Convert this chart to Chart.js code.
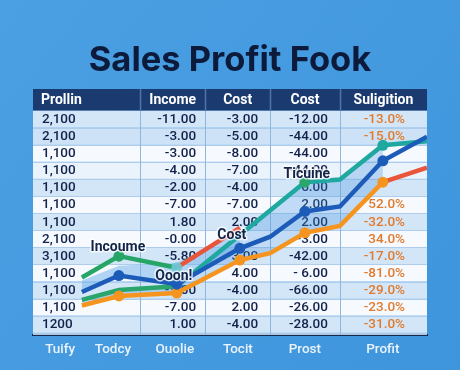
<!DOCTYPE html>
<html><head><meta charset="utf-8">
<script src="https://cdn.jsdelivr.net/npm/chart.js@4.4.1/dist/chart.umd.min.js"></script>
<style>html,body{margin:0;padding:0;background:#4a9ee2;}#wrap{width:460px;height:370px;position:relative;}</style>
</head><body><div id="wrap"><canvas id="c" width="460" height="370"></canvas></div>
<script>
// ---- data ----
const xLabels = ['Tuify', 'Todcy', 'Ouolie', 'Tocit', 'Prost', 'Profit'];
const xTickValues = [6.9, 20.3, 36.0, 52.0, 69.0, 88.8];
const xStops = [12.4, 21.8, 36.5, 52.5, 60.2, 69.0, 77.9, 88.8, 100];
const greenTop   = [23.3, 32.0, 27.3, null, null, null, null, null, null];
const tealLine   = [14.2, 18.2, 19.8, null, null, 62.1, 63.2, 77.1, 78.7];
const blueLine   = [17.4, 24.1, 20.6, 35.2, 39.9, 50.2, 52.2, 70.8, 80.6];
const orangeLine = [11.9, 15.8, 17.0, 30.4, 33.2, 41.5, 44.3, 62.1, null];
const redLine    = [null, null, 27.3, 43.5, null, null, null, 62.1, 68.0];
const bandTop    = [22.1, 28.1, 29.2, 41.9, null, null, null, null, null];

const tableHeaders = ['Prollin', 'Income', 'Cost', 'Cost', 'Suligition'];
const colProllin = ['2,100','2,100','1,100','1,100','1,100','1,100','1,100','2,100','3,100','1,100','1,100','1,100','1200'];
const colIncome  = ['-11.00','-3.00','-3.00','-4.00','-2.00','-7.00','1.80','-0.00','-5.80','','-5.00','-7.00','1.00'];
const colCost1   = ['-3.00','-5.00','-8.00','-7.00','-4.00','-7.00','2.00','','-3.00','4.00','-4.00','2.00','-4.00'];
const colCost2   = ['-12.00','-44.00','-44.00','-44.00','-6.00','2.00','2.00','-3.00','-42.00','- 6.00','-66.00','-26.00','-28.00'];
const colSulig   = ['-13.0%','-15.0%','','','','52.0%','-32.0%','34.0%','-17.0%','-81.0%','-29.0%','-23.0%','-31.0%'];

const callouts = [
  { text: 'Incoume', series: 'greenTop', index: 1 },
  { text: 'Ooon!',   series: 'greenTop', index: 2 },
  { text: 'Cost',    series: 'red',      index: 3 },
  { text: 'Ticuine', series: 'teal',     index: 5 }
];

// ---- helpers ----
const pts = ys => xStops.map((x, i) => ({ x: x, y: ys[i] }));
const markers = (idx, r) => ctx => idx.includes(ctx.dataIndex) ? r : 0;

const bgPlugin = {
  id: 'bg',
  beforeDraw(chart) {
    const { ctx, width, height } = chart;
    ctx.save();
    const g = ctx.createLinearGradient(0, 0, width, height);
    g.addColorStop(0, '#4ba0e3');
    g.addColorStop(1, '#3f95dc');
    ctx.fillStyle = g;
    ctx.fillRect(0, 0, width, height);
    ctx.restore();
  }
};

const tablePlugin = {
  id: 'table',
  beforeDatasetsDraw(chart, args, o) {
    const { ctx, chartArea: a, scales: { x } } = chart;
    const edges = o.columnEdges.map(v => x.getPixelForValue(v));
    const cols = [colProllin, colIncome, colCost1, colCost2, colSulig];
    const nRows = colProllin.length;
    const hTop = a.top, hh = o.headerHeight, rh = o.rowHeight;
    ctx.save();
    for (let r = 0; r <= nRows; r++) {
      const y0 = hTop + hh + r * rh;
      const y1 = Math.min(y0 + rh, a.bottom);
      ctx.fillStyle = o.rowFills[r % o.rowFills.length];
      ctx.fillRect(edges[0], y0, edges[edges.length - 1] - edges[0], y1 - y0);
    }
    ctx.strokeStyle = o.lineColor; ctx.lineWidth = 1;
    for (let r = 1; r <= nRows; r++) {
      const y = Math.round(hTop + hh + r * rh) + 0.5;
      ctx.beginPath(); ctx.moveTo(edges[0], y); ctx.lineTo(edges[edges.length - 1], y); ctx.stroke();
    }
    ctx.strokeStyle = o.vLineColor;
    for (let i = 1; i < edges.length - 1; i++) {
      const xx = Math.round(edges[i]) + 0.5;
      ctx.beginPath(); ctx.moveTo(xx, hTop + hh); ctx.lineTo(xx, a.bottom); ctx.stroke();
    }
    ctx.fillStyle = o.headerColor;
    ctx.fillRect(edges[0], hTop, edges[edges.length - 1] - edges[0], hh);
    ctx.strokeStyle = o.headerDivider; ctx.lineWidth = 1.5;
    for (let i = 1; i < edges.length - 1; i++) {
      const xx = Math.round(edges[i]) + 0.5;
      ctx.beginPath(); ctx.moveTo(xx, hTop); ctx.lineTo(xx, hTop + hh); ctx.stroke();
    }
    ctx.textBaseline = 'middle';
    ctx.font = o.headerFont; ctx.fillStyle = '#ffffff';
    tableHeaders.forEach((t, i) => {
      const al = o.headerAlign[i];
      ctx.textAlign = al;
      const tx = al === 'left' ? edges[i] + o.headerInset[i] : al === 'right' ? edges[i + 1] - o.headerInset[i] : (edges[i] + edges[i + 1]) / 2;
      ctx.fillText(t, tx, hTop + hh / 2 + 1);
    });
    ctx.font = o.cellFont;
    cols.forEach((col, i) => {
      ctx.fillStyle = o.cellColors[i];
      const al = o.cellAlign[i];
      ctx.textAlign = al;
      const tx = al === 'left' ? edges[i] + o.cellInset[i] : edges[i + 1] - o.cellInset[i];
      col.forEach((t, r) => {
        if (!t) return;
        ctx.fillText(t, tx, hTop + hh + r * rh + rh / 2 + 0.5);
      });
    });
    ctx.restore();
  }
};

const calloutPlugin = {
  id: 'callouts',
  afterDatasetsDraw(chart, args, o) {
    const { ctx } = chart;
    ctx.save();
    ctx.font = o.font;
    ctx.textAlign = 'center';
    ctx.textBaseline = 'middle';
    callouts.forEach((c, k) => {
      const dsIndex = chart.data.datasets.findIndex(d => d.key === c.series);
      const el = chart.getDatasetMeta(dsIndex).data[c.index];
      const off = o.offsets[k];
      const px = el.x + off[0], py = el.y + off[1];
      ctx.lineJoin = 'round';
      ctx.strokeStyle = o.halo; ctx.lineWidth = 3;
      ctx.strokeText(c.text, px, py);
      ctx.fillStyle = o.color;
      ctx.fillText(c.text, px, py);
    });
    ctx.restore();
  }
};

const tealSeg = ctx => ctx.p0.parsed.x >= 60 ? '#1fa8a0' : '#2aa56c';

new Chart(document.getElementById('c'), {
  type: 'line',
  data: {
    datasets: [
      { key: 'blue', data: pts(blueLine), borderColor: '#1d5bb8', borderWidth: 4.5,
        pointRadius: markers([1, 2, 3, 5, 7], 5.5), pointBackgroundColor: '#1d5bb8', pointBorderWidth: 0,
        tension: 0, fill: false },
      { key: 'orange', data: pts(orangeLine), borderColor: '#f5951f', borderWidth: 4.5,
        pointRadius: markers([1, 2, 3, 5, 7], 5.5), pointBackgroundColor: '#f5951f', pointBorderWidth: 0,
        tension: 0, fill: false },
      { key: 'teal', data: pts(tealLine), borderColor: '#2aa56c', borderWidth: 4.5,
        segment: { borderColor: tealSeg }, spanGaps: true,
        pointRadius: markers([5, 7], 5.5), pointBackgroundColor: ['#2aa56c','#2aa56c','#2aa56c','#2aa56c','#2aa56c','#2aa56c','#2aa56c','#1fa8a0','#1fa8a0'], pointBorderWidth: 0,
        tension: 0, fill: 1, backgroundColor: 'rgba(70,150,225,0.30)' },
      { key: 'greenTop', data: pts(greenTop), borderColor: '#27a566', borderWidth: 4.5,
        pointRadius: markers([1, 2], 5.5), pointBackgroundColor: ['#27a566', '#27a566', 'rgba(110,200,215,0.9)'], pointBorderWidth: 0,
        tension: 0, fill: false },
      { key: 'red', data: pts(redLine), borderColor: '#e8553a', borderWidth: 4.5, pointRadius: 0,
        tension: 0, fill: false, spanGaps: false },
      { key: 'band', data: pts(bandTop), borderColor: 'rgba(0,0,0,0)', borderWidth: 0, pointRadius: 0,
        tension: 0, fill: 0, backgroundColor: 'rgba(120,180,235,0.55)', spanGaps: false }
    ]
  },
  options: {
    responsive: false,
    animation: false,
    layout: { padding: { left: 33, right: 33, top: 0, bottom: 5 } },
    scales: {
      x: {
        type: 'linear', min: 0, max: 100,
        afterBuildTicks: s => { s.ticks = xTickValues.map(v => ({ value: v })); },
        ticks: { autoSkip: false, maxRotation: 0, padding: 7, color: '#eaf3fc',
          font: { family: 'Roboto', size: 13.5, weight: '500' },
          callback: (v, i) => xLabels[i] },
        grid: { display: false, drawTicks: false, tickLength: 0 },
        border: { display: true, color: '#152a52', width: 2 }
      },
      y: { type: 'linear', min: 0, max: 100, display: false }
    },
    plugins: {
      legend: { display: false },
      tooltip: { enabled: false },
      title: { display: true, text: 'Sales Profit Fook', color: '#0c1b3b',
        font: { family: 'Inter', size: 34.5, weight: 'bold', lineHeight: 1.2 },
        padding: { top: 40, bottom: 7.6 } },
      table: {
        columnEdges: [0, 27.2, 43.7, 60.2, 77.9, 100],
        headerHeight: 21.5, rowHeight: 17.1,
        headerColor: '#1b3b70', headerDivider: '#4e74a8',
        rowFills: ['#d3e6f8', '#cde2f6', '#f6faff', '#eaf3fc', '#d3e6f8', '#f6faff', '#d3e6f8', '#f6faff', '#d3e6f8', '#f6faff', '#d3e6f8', '#f6faff', '#d3e6f8', '#d3e6f8'],
        lineColor: '#afcdea', vLineColor: '#8fb7de',
        headerFont: 'bold 14px Roboto',
        headerAlign: ['left', 'right', 'center', 'center', 'center'],
        headerInset: [8, 9, 0, 0, 0],
        cellFont: '500 13.5px Roboto',
        cellAlign: ['left', 'right', 'right', 'right', 'right'],
        cellInset: [9, 9, 12, 12, 22],
        cellColors: ['#12224a', '#12224a', '#12224a', '#12224a', '#e27a2c']
      },
      callouts: {
        font: 'bold 14px Roboto', color: '#13244a', halo: 'rgba(255,255,255,0.75)',
        offsets: [[-1, -9], [-3, 9], [-8, 8], [2, -8]]
      }
    }
  },
  plugins: [bgPlugin, tablePlugin, calloutPlugin]
});
</script>
</body></html>
